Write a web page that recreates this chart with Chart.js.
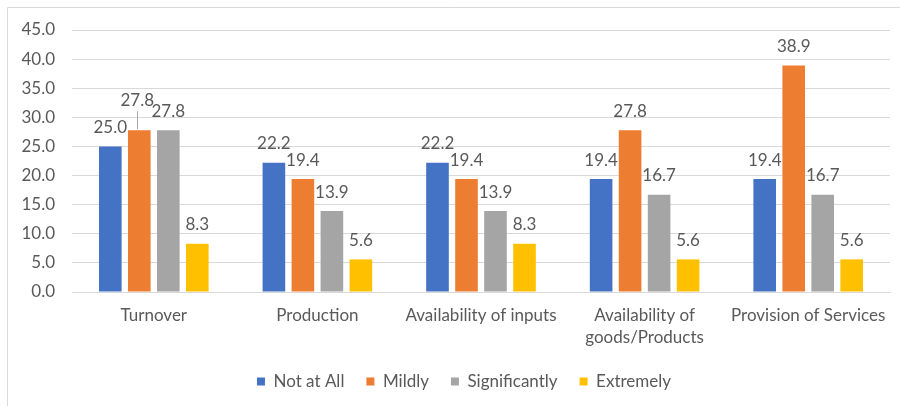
<!DOCTYPE html>
<html>
<head>
<meta charset="utf-8">
<script src="https://cdn.jsdelivr.net/npm/chart.js@4/dist/chart.umd.min.js"></script>
<style>
  html, body { margin: 0; padding: 0; background: #ffffff; }
  #wrap { position: relative; width: 900px; height: 406px; }
</style>
</head>
<body>
<div id="wrap"><canvas id="chart" width="900" height="406"></canvas></div>
<script>
// Impact categories and the share of respondents (%) for each severity level
const categories = ['Turnover', 'Production', 'Availability of inputs', ['Availability of', 'goods/Products'], 'Provision of Services'];
const notAtAll      = [25.0, 22.2, 22.2, 19.4, 19.4];
const mildly        = [27.8, 19.4, 19.4, 27.8, 38.9];
const significantly = [27.8, 13.9, 13.9, 16.7, 16.7];
const extremely     = [8.3, 5.6, 8.3, 5.6, 5.6];
const yTicks = [0, 5, 10, 15, 20, 25, 30, 35, 40, 45];

const FONT = 'Lato, "Open Sans", sans-serif';
const TEXT = '#595959';

// Value labels above each bar; one label is lifted with a short leader line
const valueLabels = {
  id: 'valueLabels',
  afterDatasetsDraw(chart, args, opts) {
    const ctx = chart.ctx;
    ctx.save();
    ctx.font = '17px ' + FONT;
    ctx.fillStyle = TEXT;
    ctx.textAlign = 'center';
    ctx.textBaseline = 'middle';
    chart.data.datasets.forEach((ds, di) => {
      const meta = chart.getDatasetMeta(di);
      meta.data.forEach((bar, i) => {
        const lifted = opts.lifted.find(l => l.dataset === di && l.index === i);
        const text = ds.data[i].toFixed(1);
        if (lifted) {
          const ty = bar.y - opts.gap - lifted.lift;
          ctx.fillText(text, bar.x + lifted.dx, ty);
          ctx.strokeStyle = '#a6a6a6';
          ctx.lineWidth = 1;
          ctx.beginPath();
          ctx.moveTo(Math.round(bar.x) - 1.5, bar.y - 1);
          ctx.lineTo(Math.round(bar.x) - 1.5, ty + 11);
          ctx.stroke();
        } else {
          ctx.fillText(text, bar.x, bar.y - opts.gap);
        }
      });
    });
    ctx.restore();
  }
};

// Thin frame along the top and left edge, and the legend centred under the bars
const frame = {
  id: 'frame',
  afterLayout(chart, args, opts) {
    const lg = chart.legend;
    if (lg) { lg.left += opts.legendShift; lg.right += opts.legendShift; }
  },
  beforeDraw(chart) {
    const ctx = chart.ctx;
    ctx.save();
    ctx.strokeStyle = '#d9d9d9';
    ctx.lineWidth = 1;
    ctx.beginPath();
    ctx.moveTo(7.5, 406);
    ctx.lineTo(7.5, 7.5);
    ctx.lineTo(900, 7.5);
    ctx.stroke();
    ctx.restore();
  }
};

new Chart(document.getElementById('chart'), {
  type: 'bar',
  data: {
    labels: categories,
    datasets: [
      { label: 'Not at All',    data: notAtAll,      backgroundColor: '#4472C4' },
      { label: 'Mildly',        data: mildly,        backgroundColor: '#ED7D31' },
      { label: 'Significantly', data: significantly, backgroundColor: '#A5A5A5' },
      { label: 'Extremely',     data: extremely,     backgroundColor: '#FFC000' }
    ]
  },
  options: {
    responsive: false,
    animation: false,
    devicePixelRatio: 1,
    layout: { padding: { left: 0, right: 10, top: 30, bottom: 6 } },
    datasets: { bar: { categoryPercentage: 0.709, barPercentage: 0.78 } },
    scales: {
      x: {
        grid: { display: false },
        border: { display: true, color: '#d9d9d9' },
        ticks: { color: TEXT, font: { family: FONT, size: 17, lineHeight: 1.3 }, padding: 4, maxRotation: 0, autoSkip: false },
        afterFit(scale) { scale.height = 59; }
      },
      y: {
        min: 0,
        max: 45,
        afterBuildTicks(scale) { scale.ticks = yTicks.map(v => ({ value: v })); },
        grid: { color: '#d9d9d9', drawTicks: false },
        border: { display: false },
        ticks: {
          color: TEXT,
          font: { family: FONT, size: 17 },
          padding: 17,
          callback: v => Number(v).toFixed(1)
        },
        afterFit(scale) { scale.width = 72; }
      }
    },
    plugins: {
      legend: {
        position: 'bottom',
        labels: { color: TEXT, font: { family: FONT, size: 17 }, boxWidth: 8, boxHeight: 8, padding: 22 }
      },
      tooltip: { enabled: false },
      frame: { legendShift: 19 },
      valueLabels: { gap: 19, lifted: [{ dataset: 1, index: 0, lift: 11, dx: -2 }] }
    }
  },
  plugins: [frame, valueLabels]
});
</script>
</body>
</html>
